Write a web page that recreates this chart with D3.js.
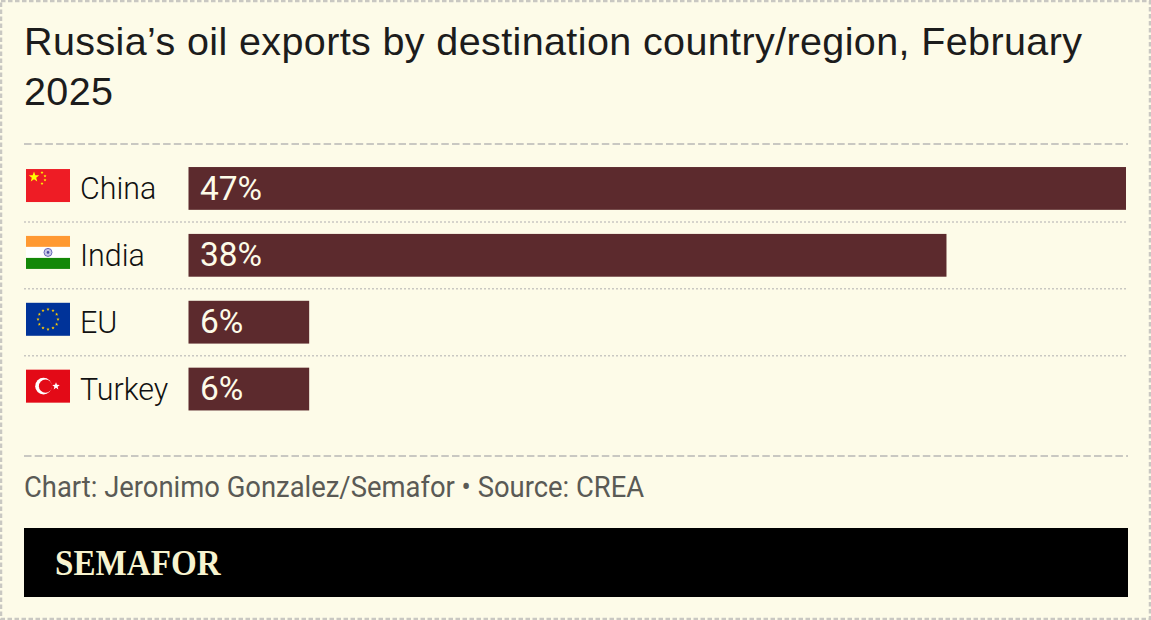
<!DOCTYPE html>
<html>
<head>
<meta charset="utf-8">
<script src="https://cdn.jsdelivr.net/npm/d3@7"></script>
<style>
  html, body { margin: 0; padding: 0; background: #fdfbe8; }
  svg { display: block; }
</style>
</head>
<body>
<div id="chart"></div>
<script>
const countries = ["China", "India", "EU", "Turkey"];
const shares = [47, 38, 6.05, 6.05];
const titleLines = ["Russia’s oil exports by destination country/region, February", "2025"];
const footer = "Chart: Jeronimo Gonzalez/Semafor • Source: CREA";
const brand = "SEMAFOR";

const width = 1151, height = 620;
const bg = "#fdfbe8", barColor = "#5c2a2d", ruleColor = "#c9c8c2";
const labelFont = "Roboto, sans-serif";

const svg = d3.select("#chart").append("svg")
  .attr("width", width)
  .attr("height", height);

svg.append("rect")
  .attr("x", 1).attr("y", 1)
  .attr("width", width - 2).attr("height", height - 2)
  .attr("fill", bg)
  .attr("stroke", ruleColor)
  .attr("stroke-width", 2.5)
  .attr("stroke-dasharray", "4.5,2.5");

svg.selectAll("text.title")
  .data(titleLines)
  .enter()
  .append("text")
  .attr("class", "title")
  .attr("x", 24)
  .attr("y", (d, i) => 55 + i * 50)
  .attr("font-family", "'Liberation Sans', sans-serif")
  .attr("font-size", 39.5)
  .attr("letter-spacing", 0.38)
  .attr("fill", "#1c1c1c")
  .text(d => d);

const hRule = (y, dash, sw, x2) => svg.append("line")
  .attr("x1", 24).attr("x2", x2)
  .attr("y1", y).attr("y2", y)
  .attr("stroke", ruleColor)
  .attr("stroke-width", sw)
  .attr("stroke-dasharray", dash);

hRule(144, "7.5,3.2", 2, 1128);
hRule(456, "7.5,3.2", 2, 1128);

const x = d3.scaleLinear().domain([0, 47]).range([188.5, 1126]);
const y = d3.scaleBand().domain(countries).range([155, 422.5]).paddingInner(0.36).paddingOuter(0.18);

// dotted separators between rows
countries.slice(1).forEach(c => {
  hRule(y(c) - (y.step() - y.bandwidth()) / 2, "2,2", 1.5, 1126);
});

function star(g, cx, cy, r, fill) {
  const pts = d3.range(10).map(k => {
    const a = -Math.PI / 2 + k * Math.PI / 5;
    const rr = k % 2 ? r * 0.42 : r;
    return [cx + rr * Math.cos(a), cy + rr * Math.sin(a)];
  });
  g.append("path").attr("d", d3.line()(pts) + "Z").attr("fill", fill);
}

function stripe(g, y0, h, fill) {
  g.append("rect").attr("x", 0).attr("y", y0).attr("width", 44).attr("height", h).attr("fill", fill);
}

const flags = {
  China(g) {
    stripe(g, 0, 33, "#ee1c25");
    star(g, 8, 8, 5.5, "#ffff00");
    star(g, 16, 3.5, 1.6, "#ffff00");
    star(g, 19, 7, 1.6, "#ffff00");
    star(g, 19, 11, 1.6, "#ffff00");
    star(g, 16, 14.5, 1.6, "#ffff00");
  },
  India(g) {
    stripe(g, 0, 11, "#ff9933");
    stripe(g, 11, 11, "#ffffff");
    stripe(g, 22, 11, "#138808");
    g.append("circle").attr("cx", 22).attr("cy", 16.5).attr("r", 4)
      .attr("fill", "#c9c9e8").attr("stroke", "#6a6ab8").attr("stroke-width", 1);
    g.append("circle").attr("cx", 22).attr("cy", 16.5).attr("r", 1.3).attr("fill", "#4a4aa0");
  },
  EU(g) {
    stripe(g, 0, 33, "#003399");
    d3.range(12).forEach(k => {
      const a = k * Math.PI / 6;
      star(g, 22 + 10 * Math.sin(a), 16.5 - 10 * Math.cos(a), 1.7, "#ffcc00");
    });
  },
  Turkey(g) {
    stripe(g, 0, 33, "#e30a17");
    g.append("circle").attr("cx", 17.5).attr("cy", 16.5).attr("r", 8.3).attr("fill", "#ffffff");
    g.append("circle").attr("cx", 19.5).attr("cy", 16.5).attr("r", 6.6).attr("fill", "#e30a17");
    star(g, 30, 16.5, 4, "#ffffff");
  }
};

const rows = svg.selectAll("g.row")
  .data(countries)
  .enter()
  .append("g")
  .attr("class", "row")
  .attr("transform", d => `translate(0,${y(d)})`);

rows.append("rect")
  .attr("x", x(0))
  .attr("y", 0)
  .attr("width", (d, i) => x(shares[i]) - x(0))
  .attr("height", y.bandwidth())
  .attr("fill", barColor);

// the original sans is narrower than Roboto, so squeeze it a little
rows.append("text")
  .attr("transform", "translate(80,32) scale(0.95,1)")
  .attr("font-family", labelFont)
  .attr("font-weight", 300)
  .attr("font-size", 32)
  .attr("fill", "#111111")
  .text(d => d);

rows.append("text")
  .attr("transform", "translate(200,32.5) scale(1.03,1)")
  .attr("font-family", labelFont)
  .attr("font-size", 32.5)
  .attr("fill", bg)
  .text((d, i) => d3.format(".0f")(shares[i]) + "%");

rows.append("g")
  .attr("transform", "translate(26,2)")
  .each(function(d) { flags[d](d3.select(this)); });

svg.append("text")
  .attr("transform", "translate(24,497) scale(0.945,1)")
  .attr("font-family", labelFont)
  .attr("font-size", 29)
  .attr("fill", "#5a5a55")
  .text(footer);

svg.append("rect")
  .attr("x", 24).attr("y", 528)
  .attr("width", 1104).attr("height", 69)
  .attr("fill", "#000000");

svg.append("text")
  .attr("transform", "translate(55,575) scale(0.92,1)")
  .attr("font-family", "'Liberation Serif', serif")
  .attr("font-weight", "bold")
  .attr("font-size", 36)
  .attr("fill", "#f7f3cf")
  .text(brand);
</script>
</body>
</html>
